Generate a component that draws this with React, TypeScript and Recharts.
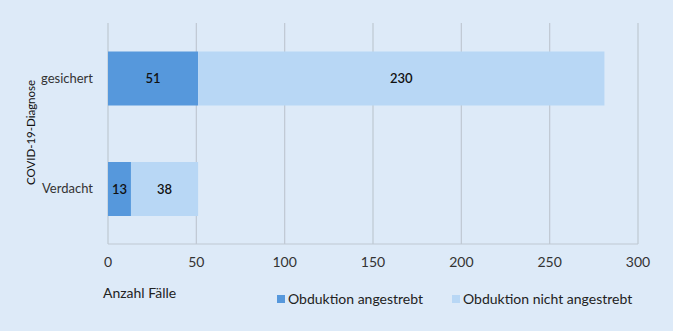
import { Bar, BarChart, CartesianGrid, LabelList, Legend, XAxis, YAxis } from 'recharts';

const categories = ['gesichert', 'Verdacht'];
const angestrebt = [51, 13];
const nichtAngestrebt = [230, 38];
const xTicks = [0, 50, 100, 150, 200, 250, 300];

const SERIES = [
  { key: 'angestrebt', name: 'Obduktion angestrebt', color: '#5698dc' },
  { key: 'nicht', name: 'Obduktion nicht angestrebt', color: '#b8d7f5' },
];

const FONT = 'Lato, "Open Sans", sans-serif';
const BG = '#ddeaf8';

const rows = categories.map((c, i) => ({
  cat: c,
  angestrebt: angestrebt[i],
  nicht: nichtAngestrebt[i],
}));

function LegendContent() {
  return (
    <div
      style={{
        display: 'flex',
        alignItems: 'center',
        fontFamily: FONT,
        fontSize: 14,
        color: '#222',
        whiteSpace: 'nowrap',
      }}
    >
      {SERIES.map((s, i) => (
        <div key={s.key} style={{ display: 'flex', alignItems: 'center', marginRight: i === 0 ? 29 : 0 }}>
          <span style={{ width: 8, height: 8, background: s.color, marginRight: 3, display: 'inline-block' }} />
          <span>{s.name}</span>
        </div>
      ))}
    </div>
  );
}

export default function App() {
  return (
    <div style={{ position: 'fixed', left: 0, top: 0, width: 673, height: 331, background: BG }}>
      <BarChart
        width={673}
        height={331}
        data={rows}
        layout="vertical"
        margin={{ top: 23, right: 35, left: 8, bottom: 27 }}
        barCategoryGap="25.7%"
        style={{ fontFamily: FONT }}
      >
        <CartesianGrid horizontal={false} stroke="#bfc8d2" strokeWidth={1.2} />
        <XAxis
          type="number"
          domain={[0, 300]}
          ticks={xTicks}
          height={60}
          tickLine={false}
          axisLine={{ stroke: '#bfc8d2' }}
          tick={{ fill: '#333', fontSize: 14 }}
          tickMargin={7}
          label={{ value: 'Anzahl Fälle', position: 'insideBottomLeft', dx: -10, dy: -1, fill: '#222', fontSize: 14 }}
        />
        <YAxis
          type="category"
          dataKey="cat"
          width={100}
          tickLine={false}
          axisLine={false}
          tick={{ fill: '#333', fontSize: 13 }}
          tickMargin={9}
          label={{ value: 'COVID-19-Diagnose', angle: -90, position: 'center', dx: -27, dy: -1, fill: '#111', fontSize: 11.5 }}
        />
        {SERIES.map((s) => (
          <Bar key={s.key} dataKey={s.key} name={s.name} stackId="a" fill={s.color} isAnimationActive={false}>
            <LabelList dataKey={s.key} position="center" fill="#111" fontSize={13} fontWeight={600} />
          </Bar>
        ))}
        <Legend
          layout="horizontal"
          verticalAlign="middle"
          content={<LegendContent />}
          wrapperStyle={{ left: 277, top: 290, width: 390 }}
        />
      </BarChart>
    </div>
  );
}
